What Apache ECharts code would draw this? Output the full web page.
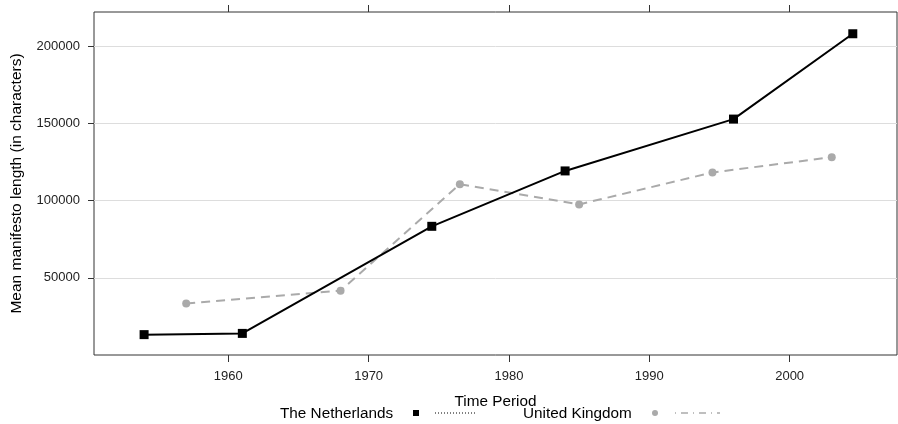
<!DOCTYPE html>
<html>
<head>
<meta charset="utf-8">
<script src="https://cdn.jsdelivr.net/npm/echarts@6/dist/echarts.min.js"></script>
<style>
  html, body { margin: 0; padding: 0; background: #fff; }
  #chart { width: 898px; height: 424px; }
</style>
</head>
<body>
<div id="chart"></div>
<script>
// Mean manifesto length per time period
const nlYears = [1954, 1961, 1974.5, 1984, 1996, 2004.5];
const nlValues = [13200, 14000, 83400, 119300, 152900, 208200];
const ukYears = [1957, 1968, 1976.5, 1985, 1994.5, 2003];
const ukValues = [33300, 41700, 110700, 97600, 118300, 128200];
const xTicks = [1960, 1970, 1980, 1990, 2000];
const yTicks = [50000, 100000, 150000, 200000];
const seriesNames = ['The Netherlands', 'United Kingdom'];

const FONT = 'Liberation Sans, Arial, sans-serif';
const GREY = '#aaaaaa';

const pair = (xs, ys) => xs.map((x, i) => [x, ys[i]]);

const chart = echarts.init(document.getElementById('chart'), null, { renderer: 'canvas' });

const xCommon = {
  type: 'value',
  min: 1950.43,
  max: 2007.65,
  axisLine: { show: false },
  splitLine: { show: false }
};

chart.setOption({
  animation: false,
  textStyle: { fontFamily: FONT },
  grid: {
    left: 94, right: 1, top: 12, bottom: 69,
    show: true, borderColor: '#333', borderWidth: 1,
    containLabel: false
  },
  xAxis: [
    Object.assign({}, xCommon, {
      position: 'bottom',
      name: 'Time Period',
      nameLocation: 'middle',
      nameGap: 39,
      nameTextStyle: { fontSize: 15.3, color: '#000', fontFamily: FONT },
      axisTick: { show: true, length: 7, customValues: xTicks, lineStyle: { color: '#333' } },
      axisLabel: {
        show: true, customValues: xTicks, fontSize: 13, color: '#222', margin: 15,
        fontFamily: FONT, formatter: v => String(v)
      }
    }),
    Object.assign({}, xCommon, {
      position: 'top',
      axisTick: { show: true, length: 7, customValues: xTicks, lineStyle: { color: '#333' } },
      axisLabel: { show: false }
    })
  ],
  yAxis: {
    type: 'value',
    min: 0,
    max: 222300,
    interval: 50000,
    name: 'Mean manifesto length (in characters)',
    nameLocation: 'middle',
    nameRotate: 90,
    nameGap: 69,
    nameTextStyle: { fontSize: 15.5, color: '#000', fontFamily: FONT },
    axisLine: { show: false },
    axisTick: { show: true, length: 6, customValues: yTicks, lineStyle: { color: '#333' } },
    axisLabel: {
      show: true, customValues: yTicks, fontSize: 13, color: '#222', margin: 14,
      fontFamily: FONT, formatter: v => String(v)
    },
    splitLine: { show: true, lineStyle: { color: '#dddddd', width: 1 } }
  },
  series: [
    {
      name: seriesNames[0],
      type: 'line',
      data: pair(nlYears, nlValues),
      symbol: 'rect',
      symbolSize: 9,
      itemStyle: { color: '#000' },
      lineStyle: { color: '#000', width: 2 },
      z: 3
    },
    {
      name: seriesNames[1],
      type: 'line',
      data: pair(ukYears, ukValues),
      symbol: 'circle',
      symbolSize: 8,
      itemStyle: { color: GREY },
      lineStyle: { color: GREY, width: 2, type: [9, 6] },
      z: 2
    }
  ],
  graphic: [
    { type: 'text', style: { x: 280, y: 413.5, text: seriesNames[0], font: '15.3px ' + FONT, fill: '#000', align: 'left', verticalAlign: 'middle' } },
    { type: 'rect', shape: { x: 413, y: 410, width: 6, height: 6 }, style: { fill: '#000' } },
    { type: 'line', shape: { x1: 435, y1: 413, x2: 477, y2: 413 }, style: { stroke: '#000', lineWidth: 1, lineDash: [1, 2] } },
    { type: 'text', style: { x: 523, y: 413.5, text: seriesNames[1], font: '15.3px ' + FONT, fill: '#000', align: 'left', verticalAlign: 'middle' } },
    { type: 'circle', shape: { cx: 655, cy: 413, r: 3 }, style: { fill: GREY } },
    { type: 'line', shape: { x1: 675, y1: 413, x2: 720, y2: 413 }, style: { stroke: GREY, lineWidth: 1.5, lineDash: [1, 5, 7, 5] } }
  ]
});
</script>
</body>
</html>
